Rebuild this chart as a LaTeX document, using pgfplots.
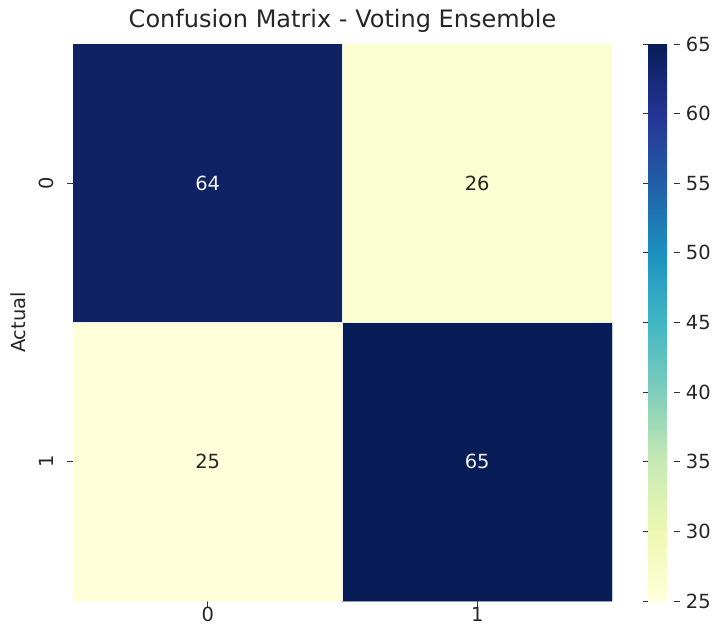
\documentclass[border=0pt]{standalone}
\usepackage{fontspec}
\setmainfont{DejaVu Sans}
\usepackage{pgfplots}
\pgfplotsset{compat=1.18}
\pgfplotsset{/pgf/number format/assume math mode=true}
\definecolor{annodark}{HTML}{262626}
\definecolor{annolight}{HTML}{F0F0F0}
\definecolor{tickc}{HTML}{333333}
\pgfplotsset{colormap={ylgnbu}{rgb255=(255,255,217) rgb255=(237,248,177) rgb255=(199,233,180) rgb255=(127,205,187) rgb255=(65,182,196) rgb255=(29,145,192) rgb255=(34,94,168) rgb255=(37,52,148) rgb255=(8,29,88)}}
\newcommand{\tfont}{\fontsize{14.6bp}{17bp}\selectfont}
\begin{document}
\begin{tikzpicture}
\path[use as bounding box] (0,0) rectangle (534bp,474.75bp);
\begin{axis}[
  at={(54.75bp,24bp)}, anchor=south west,
  scale only axis, width=404.25bp, height=417.75bp,
  xmin=-0.5, xmax=1.5, ymin=-0.5, ymax=1.5,
  y dir=reverse,
  axis line style={draw=none},
  xtick={0,1}, ytick={0,1},
  xticklabels={0,1}, yticklabels={0,1},
  xtick pos=bottom, ytick pos=left,
  tick align=outside,
  major tick length=4.2bp,
  tick style={color=tickc, line width=0.7bp},
  tick label style={font=\tfont, text=annodark},
  xticklabel style={yshift=3bp},
  yticklabel style={xshift=-10.5bp, rotate=90, anchor=base, inner sep=0pt},
  ylabel={Actual},
  ylabel style={font=\tfont, text=annodark, at={(axis description cs:-0.0872,0.5)}, anchor=base},
  colormap name=ylgnbu,
  point meta min=25, point meta max=65,
  colorbar,
  colorbar style={
    at={(parent axis.north east)}, anchor=north west, xshift=18.75bp,
    scale only axis, width=19.5bp, height=417.75bp,
    ytick={25,30,...,65},
    yticklabel pos=right,
    axis line style={draw=none},
    tick align=outside,
    major tick length=4.2bp,
    tick style={color=tickc, line width=0.7bp},
    yticklabel style={font=\tfont, text=annodark, xshift=1bp},
  },
]
\addplot[matrix plot*, mesh/cols=2, point meta=explicit] table[meta=c] {
x y c
0 0 64
1 0 26
0 1 25
1 1 65
};
\draw[white!85!gray, line width=0.8bp] (axis cs:0.5,-0.5) -- (axis cs:0.5,1.5);
\draw[white!85!gray, line width=0.8bp] (axis cs:-0.5,0.5) -- (axis cs:1.5,0.5);
\addplot[draw=none, mark=none, point meta=explicit symbolic,
  nodes near coords, nodes near coords align=center,
  nodes near coords style={anchor=center, text=annolight, font=\tfont}]
  table[meta=t] {
x y t
0 0 64
1 1 65
};
\addplot[draw=none, mark=none, point meta=explicit symbolic,
  nodes near coords, nodes near coords align=center,
  nodes near coords style={anchor=center, text=annodark, font=\tfont}]
  table[meta=t] {
x y t
1 0 26
0 1 25
};
\end{axis}
\node[anchor=base, font=\fontsize{18bp}{21bp}\selectfont, text=annodark] at (256.9bp,453.75bp) {Confusion Matrix - Voting Ensemble};
\end{tikzpicture}
\end{document}
